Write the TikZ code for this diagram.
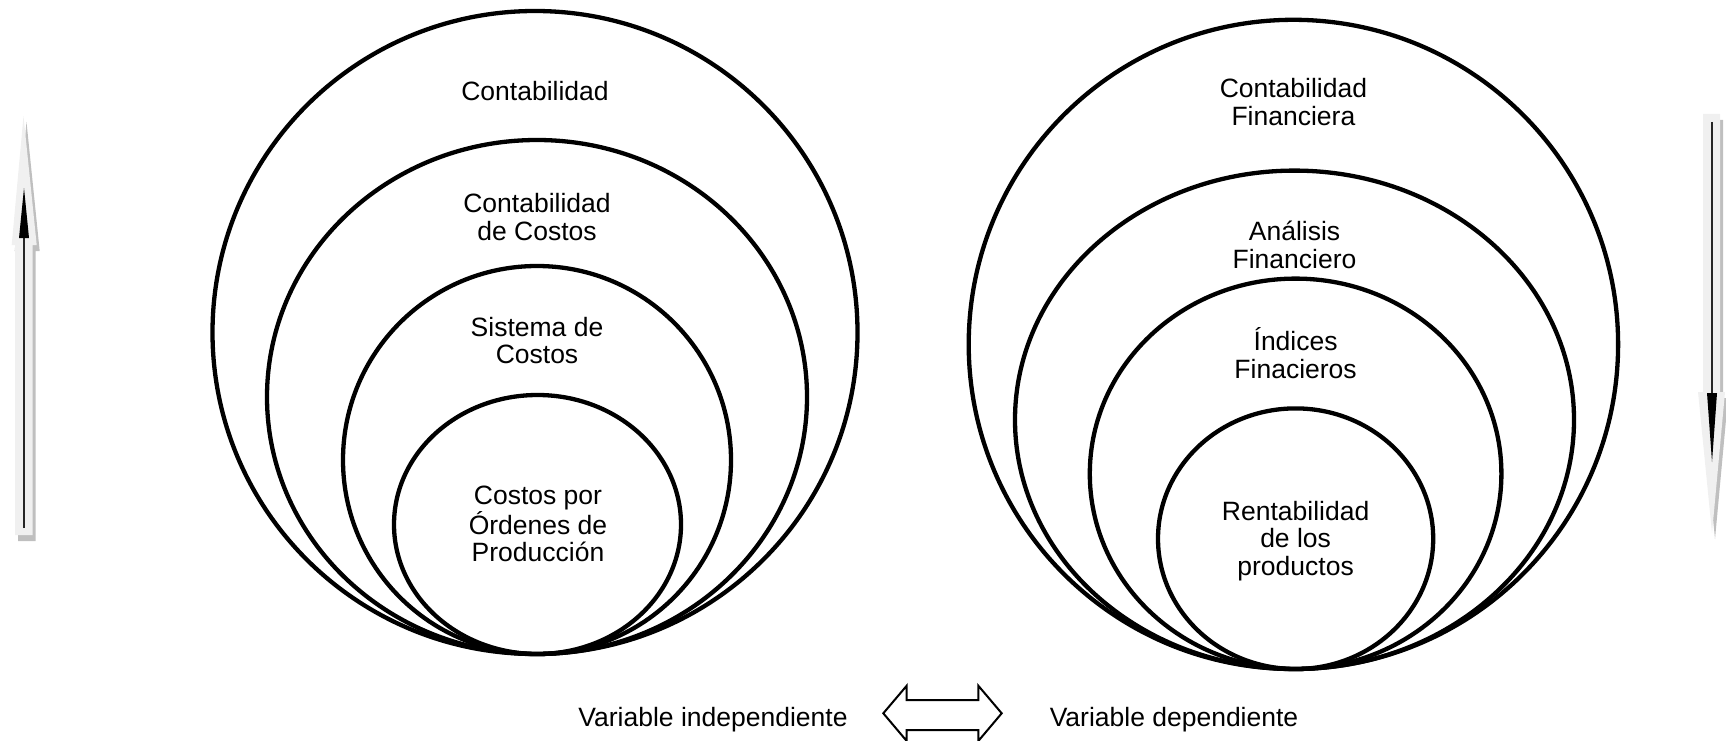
\documentclass[tikz,border=0pt]{standalone}
\usepackage{fontspec}
\setmainfont{Liberation Sans}
\tikzset{
  ring/.style={draw=black, line width=4.3pt},
  lbl/.style={align=center, inner sep=0pt, font=\fontsize{26.5}{27.5}\selectfont},
  blocklight/.style={fill=black!6, draw=none},
  blockshadow/.style={fill=black!25, draw=none},
  thinarrow/.style={draw=black!85, line width=2.5pt},
  dblarrow/.style={draw=black, line width=2pt, fill=white, line join=miter},
}
\begin{document}
\begin{tikzpicture}[x=1pt,y=-1pt]
\useasboundingbox (0,0) rectangle (1726,741);
% ---------- left set of ellipses ----------
\draw[ring] (535,332.5) ellipse [x radius=322.5, y radius=321.5];
\draw[ring] (537,397) ellipse [x radius=270, y radius=257];
\draw[ring] (537,460) ellipse [x radius=194, y radius=194];
\draw[ring] (537.5,524.5) ellipse [x radius=143.5, y radius=129.5];
% ---------- right set of ellipses ----------
\draw[ring] (1293.4,344.4) ellipse [x radius=324.7, y radius=324.6];
\draw[ring] (1294.5,419.8) ellipse [x radius=279.5, y radius=249.2];
\draw[ring] (1295.6,473.8) ellipse [x radius=205.8, y radius=195.2];
\draw[ring] (1295.6,538.7) ellipse [x radius=137.6, y radius=130.3];
% ---------- labels ----------
\node[lbl] (l1) at (535,91.5) {Contabilidad};
\node[lbl] (l2) at (537,217) {Contabilidad\\de Costos};
\node[lbl] (l3) at (537,340.5) {Sistema de\\Costos};
\node[lbl] (l4) at (538,524) {Costos por\\Órdenes de\\Producción};
\node[lbl] (r1) at (1293.4,102) {Contabilidad\\Financiera};
\node[lbl] (r2) at (1294.5,245) {Análisis\\Financiero};
\node[lbl] (r3) at (1295.6,353) {Índices\\Finacieros};
\node[lbl] (r4) at (1295.6,541) {Rentabilidad\\de los\\productos};
\node[lbl] (vi) at (713,720) {Variable independiente};
\node[lbl] (vd) at (1174,720) {Variable dependiente};
% ---------- double arrow ----------
\draw[dblarrow] (883.3,713.3) -- (906.7,685.7) -- (906.7,700) -- (978.3,700) -- (978.3,685.7)
  -- (1001.7,713.3) -- (978.3,741) -- (978.3,730) -- (906.7,730) -- (906.7,741) -- cycle;
% ---------- left up arrow ----------
\begin{scope}[shift={(3,6)}]
\fill[blockshadow] (15,535) -- (15,245) -- (11.7,245) -- (23.5,116) -- (36.7,245) -- (32.7,245) -- (32.7,535) -- cycle;
\end{scope}
\fill[blocklight] (15,535) -- (15,245) -- (11.7,245) -- (23.5,116) -- (36.7,245) -- (32.7,245) -- (32.7,535) -- cycle;
\coordinate (lab) at (24,528);
\coordinate (lat) at (24,236);
\draw[thinarrow] (lab) -- (lat);
\fill[black] (19,238) -- (24,188) -- (29,238) -- cycle;
% ---------- right down arrow ----------
\begin{scope}[shift={(3,6)}]
\fill[blockshadow] (1703,114) -- (1703,392) -- (1698,392) -- (1712,533) -- (1725,392) -- (1720,392) -- (1720,114) -- cycle;
\end{scope}
\fill[blocklight] (1703,114) -- (1703,392) -- (1698,392) -- (1712,533) -- (1725,392) -- (1720,392) -- (1720,114) -- cycle;
\coordinate (rat) at (1712,122);
\coordinate (rab) at (1712,396);
\draw[thinarrow] (rat) -- (rab);
\fill[black] (1707,393) -- (1712,462) -- (1717,393) -- cycle;
\end{tikzpicture}
\end{document}
